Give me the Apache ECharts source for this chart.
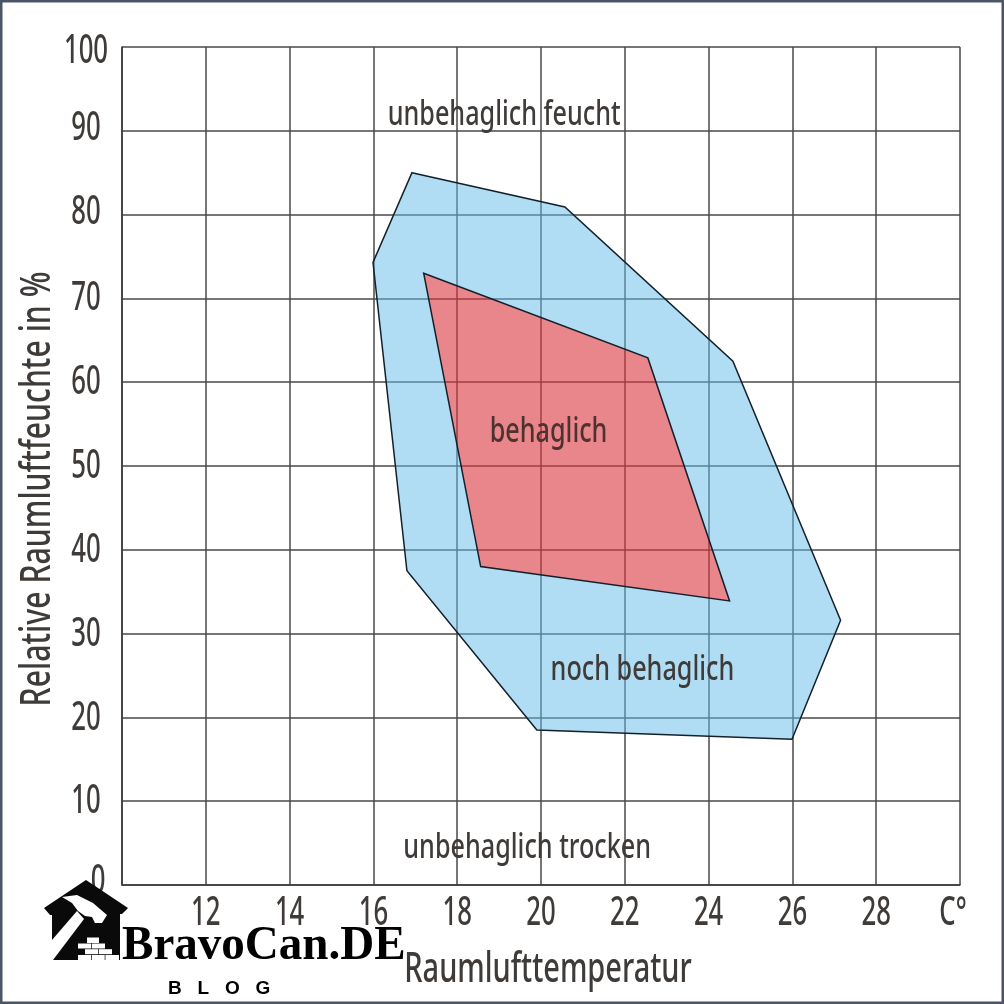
<!DOCTYPE html>
<html>
<head>
<meta charset="utf-8">
<style>html,body{margin:0;padding:0;background:#fff}#chart{width:1004px;height:1004px}</style>
<script src="https://cdn.jsdelivr.net/npm/echarts@6/dist/echarts.min.js"></script>
</head>
<body>
<div id="chart"></div>
<script>
// Comfort zones: air temperature (°C) against relative humidity (%)
const stillComfortable = [[16.92,85.0],[20.57,80.9],[24.58,62.5],[27.15,31.6],[25.99,17.4],[19.9,18.5],[16.8,37.5],[15.99,74.3]];
const comfortable = [[17.2,73.0],[22.55,62.9],[24.5,33.9],[18.56,38.0]];
const zoneNames = ['unbehaglich feucht','behaglich','noch behaglich','unbehaglich trocken'];
const zoneAnchors = [[19.12,91.85],[20.18,54.05],[22.42,25.65],[19.67,4.4]];
const yTitle = 'Relative Raumluftfeuchte in %';
const xTitle = 'Raumlufttemperatur';
const xEndLabel = 'C°';

const ink = '#3f3b39';
const inkOnRed = '#4e3230';
const gridLine = '#484848';
const face = '"Noto Sans"';
const NARROW = 0.72;      // horizontal squeeze for zone labels and the y title
const X_TITLE_NARROW = 0.69;
const TICK_NARROW = 0.66; // horizontal squeeze for tick labels

// Filled zone: translucent over the grid so the lines tint through it.
// An optional hole is cut with a keyhole seam (opposite winding), keeping the inner zone free of this tint.
function zoneFill(points, hole, fill) {
  return {
    type:'custom', coordinateSystem:'cartesian2d', z:2, silent:true,
    data:points, encode:{x:0,y:1},
    renderItem(params, api) {
      if (params.dataIndex !== 0) return null;
      let ring = points.map(p => api.coord(p));
      if (hole) {
        const inner = hole.map(p => api.coord(p)).reverse();
        ring = ring.concat([ring[0]], inner, [inner[0]]);
      }
      return {type:'polygon', shape:{points:ring}, style:{fill:fill}};
    }
  };
}

function zoneOutline(points) {
  return {
    type:'custom', coordinateSystem:'cartesian2d', z:4, silent:true,
    data:points, encode:{x:0,y:1},
    renderItem(params, api) {
      if (params.dataIndex !== 0) return null;
      return {type:'polygon', shape:{points:points.map(p => api.coord(p))},
        style:{fill:'none', stroke:'#14202a', lineWidth:1.5}};
    }
  };
}

const chart = echarts.init(document.getElementById('chart'), null, {renderer:'canvas'});
chart.setOption({
  animation:false,
  backgroundColor:'#ffffff',
  grid:{left:122, right:44, top:47, bottom:119, show:false},
  xAxis:{
    type:'value', min:10, max:30, interval:2,
    axisLine:{show:true,onZero:false,lineStyle:{color:'#3a3a3a',width:1.5}},
    axisTick:{show:false},
    splitLine:{show:true,lineStyle:{color:gridLine,width:1.5}},
    axisLabel:{color:ink,fontFamily:face,fontWeight:500,fontSize:39,margin:9,showMaxLabel:true,showMinLabel:false,
      formatter:v => v===30 ? xEndLabel : v===10 ? '' : String(v)}
  },
  yAxis:{
    type:'value', min:0, max:100, interval:10,
    axisLine:{show:true,onZero:false,lineStyle:{color:'#3a3a3a',width:1.5}},
    axisTick:{show:false},
    splitLine:{show:true,lineStyle:{color:gridLine,width:1.5}},
    axisLabel:{color:ink,fontFamily:face,fontWeight:500,fontSize:39,align:'center',margin:36}
  },
  series:[
    zoneFill(stillComfortable, comfortable, 'rgba(97,185,233,0.5)'),
    zoneFill(comfortable, null, 'rgba(218,53,63,0.6)'),
    zoneOutline(stillComfortable),
    zoneOutline(comfortable),
    {
      type:'custom', coordinateSystem:'cartesian2d', z:6, silent:true,
      data:zoneAnchors, encode:{x:0,y:1},
      renderItem(params, api) {
        const p = api.coord([api.value(0), api.value(1)]);
        const name = zoneNames[params.dataIndex];
        return {type:'text', x:p[0], y:p[1], scaleX:NARROW,
          style:{text:name, fill:name==='behaglich'?inkOnRed:ink, font:'500 35px '+face,
            textAlign:'center', textVerticalAlign:'middle'}};
      }
    }
  ],
  graphic:[
    {type:'text',z:10,x:38,y:489,rotation:Math.PI/2,scaleX:NARROW,style:{text:yTitle,fill:ink,font:'500 42px '+face,textAlign:'center',textVerticalAlign:'middle'}},
    {type:'text',z:10,x:548,y:970,scaleX:X_TITLE_NARROW,style:{text:xTitle,fill:ink,font:'500 42px '+face,textAlign:'center',textVerticalAlign:'middle'}},
    // site badge
    {type:'polygon',z:20,shape:{points:[[86,880],[128,908],[122,914],[120,914],[120,960],[52,960],[52,915],[50,915],[44,908]]},style:{fill:'#0a0a0a'}},
    {type:'polygon',z:21,shape:{points:[[52,940],[77,911],[84,919],[53,960],[52,960]]},style:{fill:'#fff'}},
    {type:'polygon',z:21,shape:{points:[[62,897],[77,895],[93,903],[107,915],[102,923],[95,923],[92,917],[85,916],[78,911],[72,903]]},style:{fill:'#fff'}},
    {type:'rect',z:21,shape:{x:87,y:937.5,width:12,height:5.5},style:{fill:'#fff'}},
    {type:'rect',z:21,shape:{x:78,y:943.5,width:13,height:5},style:{fill:'#fff'}},
    {type:'rect',z:21,shape:{x:91.7,y:943.5,width:13.3,height:5},style:{fill:'#fff'}},
    {type:'rect',z:21,shape:{x:85,y:949.2,width:13,height:5},style:{fill:'#fff'}},
    {type:'rect',z:21,shape:{x:98.7,y:949.2,width:13.3,height:5},style:{fill:'#fff'}},
    {type:'rect',z:21,shape:{x:78,y:955,width:13,height:5},style:{fill:'#fff'}},
    {type:'rect',z:21,shape:{x:91.7,y:955,width:13,height:5},style:{fill:'#fff'}},
    {type:'rect',z:21,shape:{x:105.4,y:955,width:13.6,height:5},style:{fill:'#fff'}},
    {type:'text',z:21,x:122,y:971,scaleX:0.98,style:{text:'BravoCan.DE',fill:'#000',font:'bold 48px "Liberation Serif"',textAlign:'left',textVerticalAlign:'bottom'}},
    {type:'text',z:21,x:168,y:989,style:{text:'B   L   O   G',fill:'#000',font:'bold 19px "Liberation Sans"',textAlign:'left',textVerticalAlign:'middle'}},
    {type:'rect',z:30,shape:{x:1,y:1,width:1002,height:1002},style:{fill:'none',stroke:'#4a5568',lineWidth:3}}
  ]
});

// Axis labels have no width setting, so squeeze their text after layout
// and settle the few that sit slightly off their gridline.
const yLabelShift = {'100':5,'90':-2,'80':-2,'70':0,'60':1,'50':1,'40':1,'30':1,'20':1,'10':1,'0':-3};
chart.getZr().storage.traverse(el => {
  if (el.type !== 'text' || !el.style || el.scaleX !== 1) return;
  const t = String(el.style.text);
  if (!/^(\d+|C°)$/.test(t)) return;
  el.scaleX = TICK_NARROW;
  if (t === xEndLabel) el.x -= 7;
  if (el.x < 122) {
    el.y += yLabelShift[t] || 0;
    if (t === '0') el.x += 12;
  }
  el.markRedraw();
});
chart.getZr().refresh();
</script>
</body>
</html>
